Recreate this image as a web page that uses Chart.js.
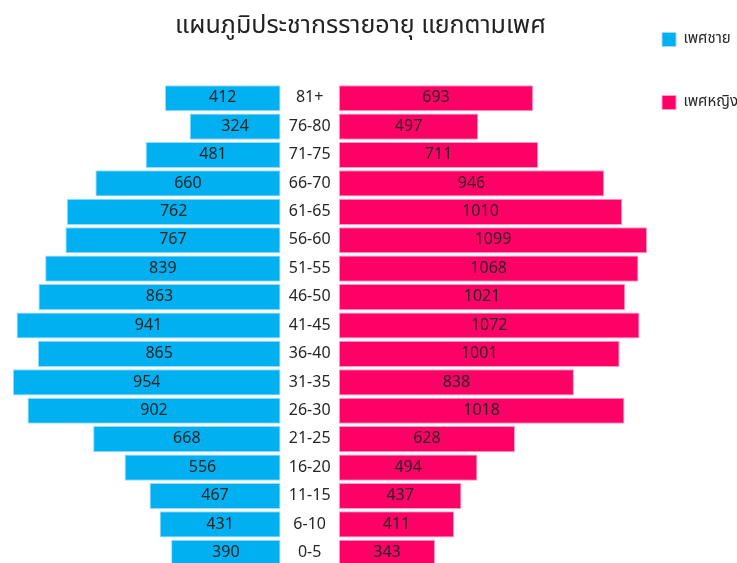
<!DOCTYPE html>
<html>
<head>
<meta charset="utf-8">
<script src="https://cdn.jsdelivr.net/npm/chart.js@4"></script>
<style>
  html, body { margin: 0; padding: 0; background: #fff; overflow: hidden; }
  #wrap { width: 737px; height: 567px; }
</style>
</head>
<body>
<div id="wrap"><canvas id="pyramid"></canvas></div>
<script>
// age groups, top to bottom
const AGES = ['81+','76-80','71-75','66-70','61-65','56-60','51-55','46-50','41-45','36-40','31-35','26-30','21-25','16-20','11-15','6-10','0-5'];
const MALE   = [412, 324, 481, 660, 762, 767, 839, 863, 941, 865, 954, 902, 668, 556, 467, 431, 390];
const FEMALE = [693, 497, 711, 946, 1010, 1099, 1068, 1021, 1072, 1001, 838, 1018, 628, 494, 437, 411, 343];
const SERIES = ['เพศชาย', 'เพศหญิง'];
const TITLE = 'แผนภูมิประชากรรายอายุ แยกตามเพศ';

const GAP = 104;   // half-width of the label gap, in data units
const FONT = "Tahoma, 'Leelawadee UI', 'Noto Sans Thai', 'Noto Sans', sans-serif";
const TEXT = '#262626';

// value labels inside bars + age labels in the middle column
const labelPlugin = {
  id: 'pyrLabels',
  afterDatasetsDraw(chart) {
    const { ctx, scales: { x, y } } = chart;
    ctx.save();
    ctx.textAlign = 'center';
    ctx.textBaseline = 'middle';
    ctx.fillStyle = TEXT;
    ctx.font = '16px ' + FONT;
    AGES.forEach((age, i) => {
      const yy = y.getPixelForValue(i) + 1;
      ctx.fillText(age, x.getPixelForValue(0), yy);
      ctx.fillText(MALE[i], x.getPixelForValue(-GAP - MALE[i] / 2), yy);
      ctx.fillText(FEMALE[i], x.getPixelForValue(GAP + FEMALE[i] / 2), yy);
    });
    ctx.restore();
  }
};

new Chart(document.getElementById('pyramid'), {
  type: 'bar',
  data: {
    labels: AGES,
    datasets: [
      {
        label: SERIES[0],
        data: MALE.map(v => [-GAP - v, -GAP]),
        backgroundColor: '#00B0F0',
        borderColor: '#9BDCF5',
        borderWidth: 1,
        borderSkipped: false,
        grouped: false,
        clip: false,
      },
      {
        label: SERIES[1],
        data: FEMALE.map(v => [GAP, GAP + v]),
        backgroundColor: '#FF0066',
        borderColor: '#FF9CC2',
        borderWidth: 1,
        borderSkipped: false,
        grouped: false,
        clip: false,
      },
    ],
  },
  options: {
    indexAxis: 'y',
    responsive: true,
    maintainAspectRatio: false,
    animation: false,
    layout: { padding: { left: -27, right: -11, top: -16, bottom: 0 } },
    barPercentage: 0.92,
    categoryPercentage: 1,
    scales: {
      x: {
        position: 'top',
        min: -1104,
        max: 1085,
        ticks: { display: false },
        grid: { display: false },
        border: { display: false },
        afterFit: s => { s.height = 94; },
      },
      y: { display: false },
    },
    plugins: {
      title: {
        display: true,
        text: TITLE,
        color: '#222',
        font: { family: FONT, size: 25, weight: 'normal' },
        padding: { top: 29, bottom: -53 },
      },
      legend: {
        position: 'right',
        align: 'start',
        labels: {
          color: TEXT,
          font: { family: FONT, size: 15 },
          boxWidth: 14,
          boxHeight: 14,
          padding: 48,
        },
      },
      tooltip: { enabled: false },
    },
  },
  plugins: [labelPlugin],
});
</script>
</body>
</html>
